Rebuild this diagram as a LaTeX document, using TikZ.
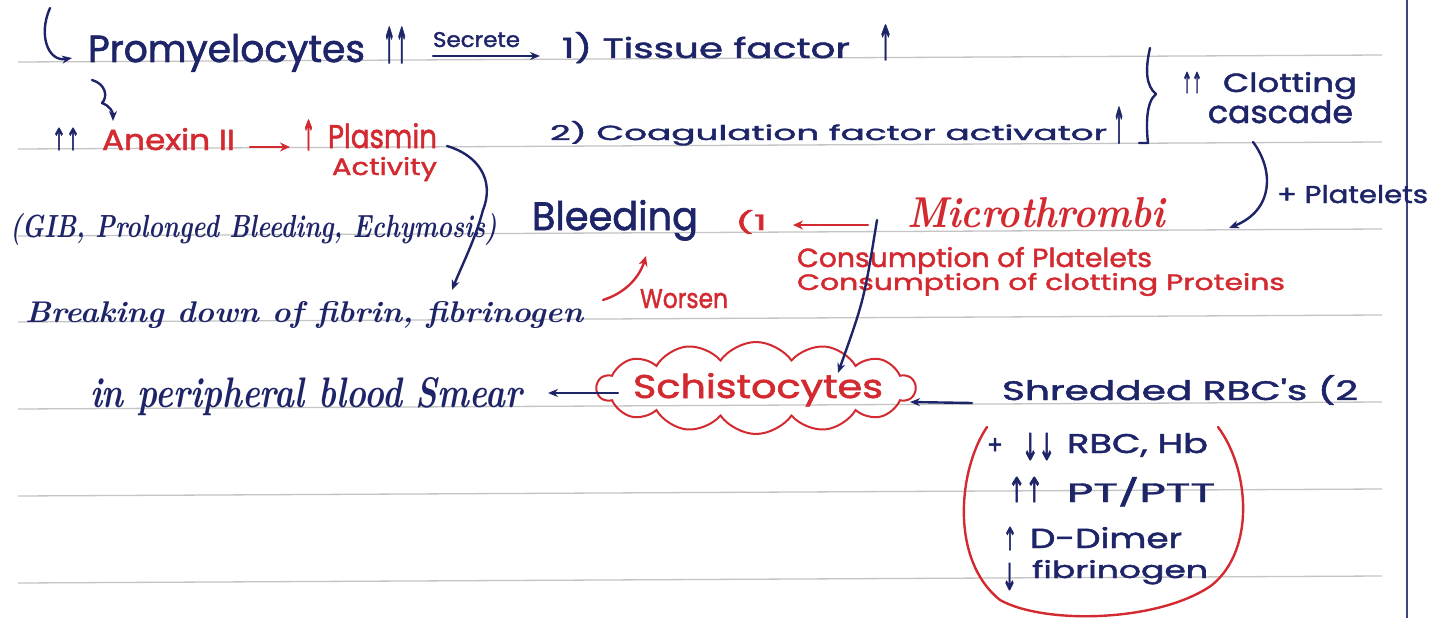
\documentclass[tikz,border=0pt]{standalone}
\usepackage{fontspec}
\usepackage{graphicx}
\usetikzlibrary{arrows.meta,shapes.symbols}
\newfontfamily\hand{Poppins}[FakeBold=1.6]
\newfontfamily\dv{DejaVu Sans}[FakeBold=2.5]
\definecolor{ink}{HTML}{1E2468}
\definecolor{rink}{HTML}{D22A30}
\definecolor{rulegray}{HTML}{C4C4C4}
\newcommand\tx[3]{\resizebox{#1pt}{#2pt}{#3}}
\newcommand\gl[3]{\resizebox*{#1pt}{#2pt}{\dv #3}}
\tikzset{
  bt/.style={anchor=base west, inner sep=0pt, outer sep=0pt, text=ink, font=\hand\fontsize{30}{36}\selectfont},
  rt/.style={bt, text=rink},
  ct/.style={bt, font=\bfseries\itshape\fontsize{30}{36}\selectfont},
  crt/.style={ct, text=rink},
  gb/.style={anchor=south west, inner sep=0pt, outer sep=0pt, text=ink, font=\fontsize{30}{36}\selectfont},
  gr/.style={gb, text=rink},
  pen/.style={draw=ink, line width=2.4pt, line cap=round, line join=round},
  rpen/.style={draw=rink, line width=2.4pt, line cap=round, line join=round},
  tipb/.style={-{Stealth[length=10pt,width=8pt]}},
  tipr/.style={-{Stealth[length=10pt,width=9pt]}},
  ruled/.style={draw=rulegray, line width=1.3pt},
}
\begin{document}
\begin{tikzpicture}[x=1pt,y=-1pt]
\useasboundingbox (0,0) rectangle (1435,618);
\fill[white] (0,0) rectangle (1435,618);
% ruled lines
\foreach \yy in {62,149,236,322,409,496,583}
  \draw[ruled] (18,\yy) -- (1382,\yy-7);
\draw[draw=ink!85, line width=2pt] (1407,0) -- (1407,618);

% ---- row 1
\node[bt] (promy) at (88,62) {\tx{277}{28}{Promyelocytes}};
\node[gb] (up1) at (383,63) {\gl{25}{36}{↑↑}};
\node[bt] (secrete) at (433,47) {\tx{87}{15}{Secrete}};
\node[bt] (tissue) at (562,58) {\tx{288}{26}{1) Tissue factor}};
\node[gb] (up2) at (878,60) {\gl{15}{35}{↑}};

% ---- row 2
\node[gb] (up3) at (52,150) {\gl{28}{22}{↑↑}};
\node[rt] (anexin) at (102,150) {\tx{133}{22}{Anexin II}};
\node[gr] (up4) at (302,150) {\gl{13}{30}{↑}};
\node[rt] (plasmin) at (328,148) {\tx{109}{25}{Plasmin}};
\node[rt] (activity) at (332,175) {\tx{105}{18}{Activity}};
\node[bt] (coag) at (550,140) {\tx{557}{19}{2) Coagulation factor activator}};
\node[gb] (up5) at (1113,143) {\gl{12}{36}{↑}};
\node[gb] (up6) at (1182,93) {\gl{20}{21}{↑↑}};
\node[bt] (clotting) at (1223,92) {\tx{134}{20}{Clotting}};
\node[bt] (cascade) at (1208,123) {\tx{145}{23}{cascade}};

% ---- row 3
\node[ct] (gib) at (10,237) {\tx{487}{24}{(GIB, Prolonged Bleeding, Echymosis)}};
\node[bt] (bleeding) at (532,230) {\tx{166}{30}{Bleeding}};
\node[rt] (one) at (735,230) {\tx{32}{20}{(1}};
\node[crt] (micro) at (907,227) {\tx{258}{30}{Microthrombi}};
\node[bt] (plate) at (1277,203) {\tx{151}{18}{+ Platelets}};
\node[rt] (cons1) at (797,267) {\tx{355}{20}{Consumption of Platelets}};
\node[rt] (cons2) at (797,290) {\tx{488}{17}{Consumption of clotting Proteins}};

% ---- row 4
\node[ct] (breaking) at (25,322) {\tx{558}{21}{Breaking down of fibrin, fibrinogen}};
\node[rt] (worsen) at (640,308) {\tx{88}{19}{Worsen}};

% ---- row 5
\node[ct] (smear) at (90,407) {\tx{432}{30}{in peripheral blood Smear}};
\node[cloud, draw=rink, line width=2pt, cloud puffs=14, cloud puff arc=110,
      cloud ignores aspect, minimum width=318pt, minimum height=92pt, inner sep=0pt] (cloud) at (756,388) {};
\node[rt] (schisto) at (633,398) {\tx{250}{25}{Schistocytes}};
\node[bt] (shred) at (1002,400) {\tx{356}{25}{Shredded RBC's (2}};

% ---- lab list
\node[bt, anchor=center] (plus) at (995,446) {\tx{16}{16}{+}};
\node[gb] (dn1) at (1022,460) {\gl{33}{27}{↓↓}};
\node[bt] (rbc) at (1067,453) {\tx{141}{20}{RBC, Hb}};
\node[gb] (up7) at (1008,502) {\gl{35}{25}{↑↑}};
\node[bt] (pt) at (1067,502) {\tx{148}{25}{PT/PTT}};
\node[gb] (up8) at (1003,550) {\gl{14}{23}{↑}};
\node[bt] (dd) at (1030,548) {\tx{152}{21}{D-Dimer}};
\node[gb] (dn2) at (1002,590) {\gl{15}{27}{↓}};
\node[bt] (fib) at (1032,578) {\tx{176}{18}{fibrinogen}};

% ---- connectors
\coordinate (h0) at (50,8);
\coordinate (h1) at (72,58);
\draw[pen, tipb] (h0) .. controls (38,35) and (48,62) .. (h1);

\coordinate (c0) at (92,80);
\coordinate (c1) at (113,121);
\draw[pen, tipb] (c0) .. controls (106,84) and (108,97) .. (102,103) .. controls (110,106) and (113,112) .. (c1);

\draw[pen, tipb] ([yshift=-9pt]secrete.base west) -- ([yshift=-9pt,xshift=20pt]secrete.base east);

\draw[rpen, tipr] ([xshift=15pt,yshift=3pt]anexin.base east) -- ([xshift=-12pt,yshift=3pt]up4.south west);

\coordinate (p0) at (447,146);
\coordinate (p1) at (452,290);
\draw[pen, tipb] (p0) .. controls (478,155) and (495,180) .. (483,210) .. controls (475,240) and (462,265) .. (p1);

% brace
\draw[pen] (1150,48) .. controls (1145,70) and (1146,86) .. (1156,94) .. controls (1146,102) and (1146,125) .. (1148,143) -- (1139,143);

\coordinate (k0) at (1253,142);
\coordinate (k1) at (1229,228);
\draw[pen, tipb] (k0) .. controls (1274,170) and (1274,210) .. (k1);

\draw[rpen, tipr] ([xshift=-39pt,yshift=2pt]micro.base west) -- ([xshift=26pt,yshift=5pt]one.base east);

\coordinate (m0) at (877,220);
\coordinate (m1) at (838,373);
\draw[pen, tipb] (m0) .. controls (864,300) .. (m1);

\coordinate (w0) at (603,300);
\coordinate (w1) at (646,256);
\draw[rpen, tipr] (w0) .. controls (628,292) and (640,275) .. (w1);

\coordinate (s0) at (618,393);
\coordinate (s1) at (548,393);
\draw[pen, tipb] (s0) -- (s1);

\coordinate (r0) at (972,403);
\coordinate (r1) at (910,402);
\draw[pen, tipb] (r0) -- (r1);

% U loop
\draw[rpen] (987,427) .. controls (958,470) and (950,560) .. (1000,600) .. controls (1045,625) and (1160,622) .. (1212,585) .. controls (1255,550) and (1250,470) .. (1218,427);
\end{tikzpicture}
\end{document}
